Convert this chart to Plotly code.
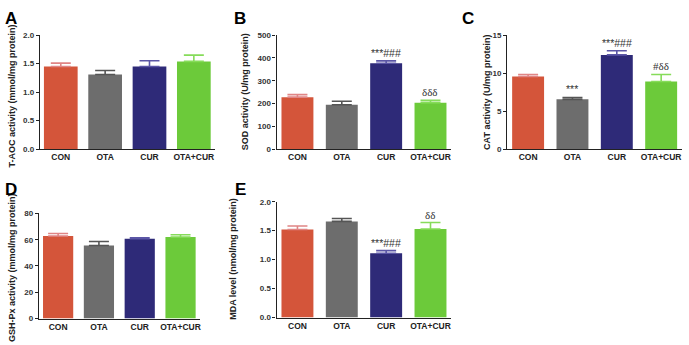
import plotly.graph_objects as go

W, H = 689, 345

groups = ["CON", "OTA", "CUR", "OTA+CUR"]
bar_colors = ["#d4553a", "#6d6d6d", "#2e2a78", "#6cca3a"]
err_colors = ["#e08585", "#555555", "#5b56a6", "#86dc5a"]

taoc_mean = [1.45, 1.31, 1.45, 1.54]
taoc_err = [0.06, 0.07, 0.10, 0.11]
sod_mean = [228, 195, 377, 204]
sod_err = [11, 15, 10, 10]
cat_mean = [9.55, 6.55, 12.4, 8.9]
cat_err = [0.28, 0.25, 0.55, 0.93]
gsh_mean = [62.8, 55.6, 60.8, 62.0]
gsh_err = [1.9, 3.0, 0.7, 1.8]
mda_mean = [1.52, 1.66, 1.11, 1.53]
mda_err = [0.06, 0.05, 0.045, 0.11]

panels = [
    dict(letter="A", mean=taoc_mean, err=taoc_err, title="T-AOC activity (mmol/mg protein)",
         yr=[0, 2], dt=0.5, fmt=".1f", x0=40, x1=215, yt=32, yb=149, tx=12, ty=94,
         lx=3, ly=3, bw=0.76, marks={}),
    dict(letter="B", mean=sod_mean, err=sod_err, title="SOD activity (U/mg protein)",
         yr=[0, 500], dt=100, fmt="d", x0=277, x1=452, yt=32, yb=149, tx=245, ty=90,
         lx=232, ly=3, bw=0.72, marks={2: "***###", 3: "δδδ"}),
    dict(letter="C", mean=cat_mean, err=cat_err, title="CAT activity (U/mg protein)",
         yr=[0, 15], dt=5, fmt="d", x0=508, x1=683, yt=32, yb=149, tx=487, ty=91,
         lx=461, ly=3, bw=0.72, marks={1: "***", 2: "***###", 3: "#δδ"}),
    dict(letter="D", mean=gsh_mean, err=gsh_err, title="GSH-Px activity (mmol/mg protein)",
         yr=[0, 80], dt=20, fmt="d", x0=39, x1=200, yt=215, yb=323, tx=12, ty=270,
         lx=3, ly=179, bw=0.74, marks={}),
    dict(letter="E", mean=mda_mean, err=mda_err, title="MDA level (nmol/mg protein)",
         yr=[0, 2], dt=0.5, fmt=".1f", x0=277, x1=452, yt=203, yb=322, tx=234, ty=262,
         lx=233, ly=179, bw=0.72, marks={2: "***###", 3: "δδ"}),
]

fig = go.Figure()
annotations = []
FONT = "Liberation Sans"

for i, p in enumerate(panels):
    n = i + 1
    xa = "x" if n == 1 else f"x{n}"
    ya = "y" if n == 1 else f"y{n}"
    for j, g in enumerate(groups):
        fig.add_trace(go.Bar(
            x=[j], y=[p["mean"][j]], width=p["bw"],
            marker=dict(color=bar_colors[j], line=dict(width=0)),
            error_y=dict(type="data", symmetric=False, array=[p["err"][j]], arrayminus=[0],
                         color=err_colors[j], thickness=1.6, width=10),
            xaxis=xa, yaxis=ya, showlegend=False, hoverinfo="skip"))
    ticks = []
    v = p["yr"][0]
    while v <= p["yr"][1] + 1e-9:
        ticks.append(round(v, 3))
        v += p["dt"]
    ticktext = [format(t, p["fmt"]) if p["fmt"] != "d" else str(int(t)) for t in ticks]
    axkey = "xaxis" if n == 1 else f"xaxis{n}"
    aykey = "yaxis" if n == 1 else f"yaxis{n}"
    fig.layout[axkey] = dict(
        domain=[p["x0"] / W, p["x1"] / W], range=[-0.47, 3.47], anchor=ya,
        tickmode="array", tickvals=list(range(4)), ticktext=groups,
        showline=True, linecolor="#222222", linewidth=1.3, ticks="", showgrid=False,
        zeroline=False, fixedrange=True,
        tickfont=dict(family=FONT, size=8.5, color="#222222", weight="bold"))
    fig.layout[aykey] = dict(
        domain=[1 - p["yb"] / H, 1 - p["yt"] / H], range=p["yr"], anchor=xa,
        tickmode="array", tickvals=ticks, ticktext=ticktext,
        showline=True, linecolor="#222222", linewidth=1.3, ticks="outside", ticklen=3,
        tickwidth=1.2, tickcolor="#222222", showgrid=False, zeroline=False, fixedrange=True,
        tickfont=dict(family=FONT, size=8, color="#333333", weight="bold"))
    annotations.append(dict(
        text=p["title"], x=p["tx"] / W, y=1 - p["ty"] / H, xref="paper", yref="paper",
        textangle=-90, showarrow=False, xanchor="center", yanchor="middle",
        font=dict(family=FONT, size=9, color="#222222", weight="bold")))
    annotations.append(dict(
        text=p["letter"], x=p["lx"] / W, y=1 - p["ly"] / H, xref="paper", yref="paper",
        showarrow=False, xanchor="left", yanchor="top",
        font=dict(family=FONT, size=17, color="#000000", weight="bold")))
    for j, m in p["marks"].items():
        serif = "δ" in m
        annotations.append(dict(
            text=m, x=j, y=p["mean"][j] + p["err"][j], xref=xa, yref=ya,
            showarrow=False, xanchor="center", yanchor="bottom", yshift=0,
            font=dict(family="Liberation Serif" if serif else FONT, size=11 if serif else 10.5,
                      color="#333333")))

fig.update_layout(
    width=W, height=H, margin=dict(l=0, r=0, t=0, b=0),
    paper_bgcolor="white", plot_bgcolor="white",
    annotations=annotations, bargap=0.2)

fig.write_html("out.html", config={"displayModeBar": False},
               post_script="document.body.style.margin='0';document.body.style.padding='0';")
